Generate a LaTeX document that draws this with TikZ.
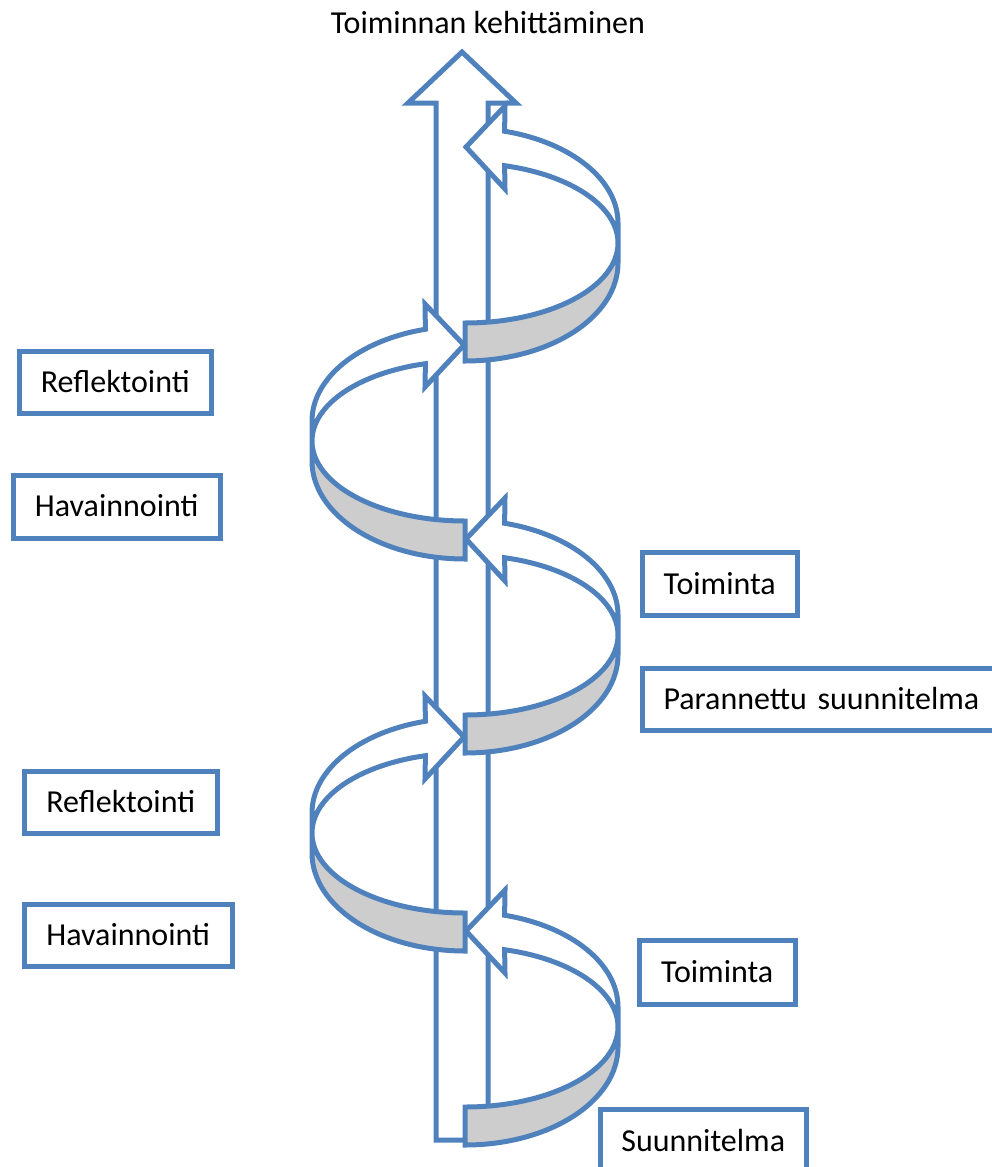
\documentclass[tikz,border=0pt]{standalone}
\usepackage{fontspec}
\setmainfont{Carlito}
\usepackage{xcolor}
\usepackage{tikz}
\definecolor{ribbonblue}{RGB}{79,129,189}
\definecolor{ribbongray}{RGB}{205,205,205}
\newcommand{\labelfont}{\fontsize{32}{38}\selectfont}

\begin{document}
\begin{tikzpicture}[
  x=1pt, y=1pt, yscale=-1,
  ribbon/.style={draw=ribbonblue, line width=5pt, miter limit=20},
  stagebox/.style={draw=ribbonblue, line width=5pt, fill=white, inner sep=0pt,
    text height=20.6pt, text depth=0pt, font=\labelfont},
]
\clip (0,0) rectangle (992,1167);

%%% Main arrow: development of the activity %%%
\filldraw[ribbon, fill=white] (436,1140) -- (436,103) -- (408,103) -- (462,52)
  -- (516,103) -- (488,103) -- (488,1140) -- cycle;
\node[font=\labelfont, anchor=base] (title) at (488,33.3) {Toiminnan kehittäminen};

%%% Spiral: right half turns %%%
\foreach \cy in {1027,635,243} {
  \begin{scope}[shift={(465,\cy)}]
    % underside (gray)
    \filldraw[ribbon, fill=ribbongray] (153,0)
      arc[start angle=0, end angle=90, x radius=153, y radius=80]
      -- (0,118) arc[start angle=90, end angle=0, x radius=153, y radius=98] -- cycle;
    % top face with head
    \filldraw[ribbon, fill=white] (153,-20)
      arc[start angle=0, end angle=-75, x radius=153, y radius=95]
      -- (40,-137) -- (1,-96) -- (40,-54) -- (39.6,-77.3)
      arc[start angle=-75, end angle=0, x radius=153, y radius=80] -- cycle;
  \end{scope}
}

%%% Spiral: left half turns (mirrored) %%%
\foreach \cy in {833,441} {
  \begin{scope}[shift={(465,\cy)}, xscale=-1]
    \filldraw[ribbon, fill=ribbongray] (153,0)
      arc[start angle=0, end angle=90, x radius=153, y radius=80]
      -- (0,118) arc[start angle=90, end angle=0, x radius=153, y radius=98] -- cycle;
    \filldraw[ribbon, fill=white] (153,-20)
      arc[start angle=0, end angle=-75, x radius=153, y radius=95]
      -- (40,-137) -- (1,-96) -- (40,-54) -- (39.6,-77.3)
      arc[start angle=-75, end angle=0, x radius=153, y radius=80] -- cycle;
  \end{scope}
}

%%% Stage labels %%%
% left side
\node[stagebox, minimum width=192.5pt, minimum height=62.5pt] (refl2) at (115.25,382.25) {Reflektointi};
\node[stagebox, minimum width=207.5pt, minimum height=63pt] (hav2) at (116.75,506.5) {Havainnointi};
\node[stagebox, minimum width=193.5pt, minimum height=62pt] (refl1) at (120.75,802) {Reflektointi};
\node[stagebox, minimum width=208.5pt, minimum height=62pt] (hav1) at (128.25,935) {Havainnointi};
% right side
\node[stagebox, minimum width=155.5pt, minimum height=62.5pt] (toim2) at (719.75,583.75) {Toiminta};
\node[stagebox, anchor=west, text width=340pt, align=left, inner xsep=21pt,
  minimum height=62.5pt] (paran) at (640,699.25) {Parannettu suunnitelma};
\node[stagebox, minimum width=155.5pt, minimum height=63.5pt] (toim1) at (717.25,972.25) {Toiminta};
\node[stagebox, anchor=north, minimum width=206.5pt, minimum height=64pt] (suun) at (703.25,1106.5) {Suunnitelma};

\end{tikzpicture}
\end{document}
